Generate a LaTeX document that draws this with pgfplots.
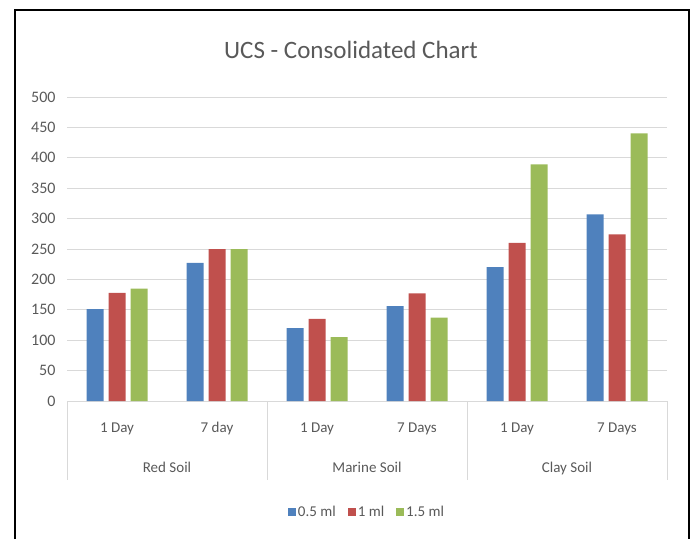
\documentclass[border=0pt]{standalone}
\usepackage{fontspec}
\setmainfont{Carlito}
\usepackage{pgfplots}
\pgfplotsset{compat=1.18}
\definecolor{sblue}{HTML}{4F81BD}
\definecolor{sred}{HTML}{C0504D}
\definecolor{sgreen}{HTML}{9BBB59}
\definecolor{txt}{HTML}{595959}
\definecolor{grd}{HTML}{D9D9D9}
\begin{document}
\begin{tikzpicture}
\useasboundingbox (0pt,0pt) rectangle (693pt,539pt);
\draw[black, line width=1.5pt] (15pt,0pt) -- (15pt,529pt) -- (689pt,529pt) -- (689pt,0pt);
\node[text=txt, font=\fontsize{25}{29}\selectfont] at (351pt,489pt) {UCS - Consolidated Chart};
\begin{axis}[
  at={(67pt,138pt)}, anchor=south west,
  scale only axis, width=600pt, height=304pt,
  ymin=0, ymax=500, ytick={0,50,...,500},
  xmin=-0.5, xmax=5.5,
  xtick={0,...,5},
  xticklabels={1 Day,7 day,1 Day,7 Days,1 Day,7 Days},
  ybar=5pt, bar width=17pt,
  ymajorgrids, grid style={grd, line width=0.8pt},
  axis x line*=bottom, axis y line*=left,
  x axis line style={grd, line width=0.8pt, -},
  y axis line style={draw=none},
  major tick length=0pt,
  /pgf/number format/assume math mode=true,
  tick label style={text=txt, font=\fontsize{15}{17}\selectfont},
  yticklabel style={font=\fontsize{16}{18}\selectfont, xshift=-8pt},
  xticklabel style={anchor=base, yshift=-31pt},
  clip=false,
  legend style={at={(0.5,-0.365)}, anchor=center, draw=none, legend columns=3,
    font=\fontsize{15}{17}\selectfont, text=txt,
    /tikz/every even column/.append style={column sep=10pt}},
  legend image code/.code={\fill[#1] (0pt,-4pt) rectangle (8pt,4pt);},
]
\addplot[fill=sblue, draw=none] coordinates {(0,151) (1,227) (2,120) (3,156) (4,220) (5,307)};
\addplot[fill=sred, draw=none] coordinates {(0,178) (1,250) (2,135) (3,177) (4,260) (5,274)};
\addplot[fill=sgreen, draw=none] coordinates {(0,185) (1,250) (2,105) (3,137) (4,389) (5,440)};
\legend{0.5 ml,1 ml,1.5 ml}
\foreach \xx in {-0.5,1.5,3.5,5.5} {
  \edef\tmp{\noexpand\draw[grd, line width=0.8pt] (axis cs:\xx,0) -- ([yshift=-79pt]axis cs:\xx,0);}
  \tmp
}
\node[text=txt, font=\fontsize{15}{17}\selectfont, anchor=base] at ([yshift=-71pt]axis cs:0.5,0) {Red Soil};
\node[text=txt, font=\fontsize{15}{17}\selectfont, anchor=base] at ([yshift=-71pt]axis cs:2.5,0) {Marine Soil};
\node[text=txt, font=\fontsize{15}{17}\selectfont, anchor=base] at ([yshift=-71pt]axis cs:4.5,0) {Clay Soil};
\end{axis}
\end{tikzpicture}
\end{document}
